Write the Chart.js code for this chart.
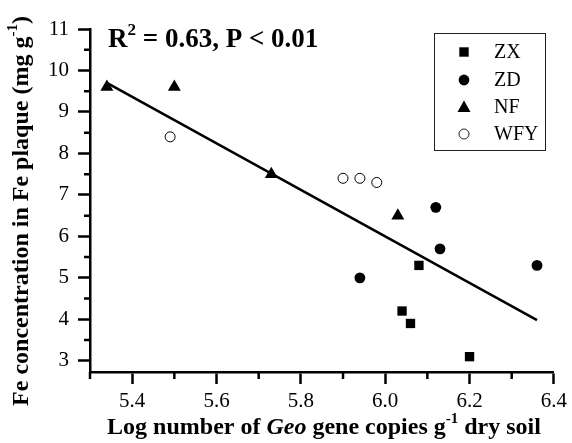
<!DOCTYPE html>
<html lang="en">
<head>
    <meta charset="UTF-8">
    <title>Fe plaque vs Geo gene copies</title>
    <style>
        html, body { margin: 0; padding: 0; background: #fff; }
        .chart-container { width: 572px; height: 443px; }
    </style>
</head>
<body>
    <div class="chart-container">
        <canvas id="feChart" width="572" height="443"></canvas>
    </div>

    <script src="https://cdn.jsdelivr.net/npm/chart.js@4.4.1/dist/chart.umd.min.js"></script>
    <script>
        // data
        const zxX = [6.08, 6.04, 6.06, 6.20];
        const zxY = [5.3, 4.2, 3.9, 3.1];
        const zdX = [5.94, 6.12, 6.13, 6.36];
        const zdY = [5.0, 6.7, 5.7, 5.3];
        const nfX = [5.34, 5.50, 5.73, 6.03];
        const nfY = [9.6, 9.6, 7.5, 6.5];
        const wfyX = [5.49, 5.90, 5.94, 5.98];
        const wfyY = [8.4, 7.4, 7.4, 7.3];
        const fitX = [5.34, 6.36];
        const fitY = [9.70, 3.98];

        const groupNames = ['ZX', 'ZD', 'NF', 'WFY'];
        const xTicks = [5.4, 5.6, 5.8, 6.0, 6.2, 6.4];
        const xMinorTicks = [5.3, 5.5, 5.7, 5.9, 6.1, 6.3];
        const yTicks = [3, 4, 5, 6, 7, 8, 9, 10, 11];
        const yMinorTicks = [3.5, 4.5, 5.5, 6.5, 7.5, 8.5, 9.5, 10.5];

        const serif = '"Liberation Serif", "DejaVu Serif", serif';

        function pts(xs, ys) {
            return xs.map((x, i) => ({ x: x, y: ys[i] }));
        }

        // minor ticks, legend box, R2 note and axis titles with superscripts
        const decorations = {
            id: 'decorations',
            afterDraw(chart) {
                const ctx = chart.ctx;
                const xs = chart.scales.x, ys = chart.scales.y;
                ctx.save();
                ctx.strokeStyle = '#000';
                ctx.lineWidth = 2.5;
                ctx.beginPath();
                xMinorTicks.forEach(v => {
                    const px = xs.getPixelForValue(v);
                    ctx.moveTo(px, xs.top);
                    ctx.lineTo(px, xs.top + 7);
                });
                yMinorTicks.forEach(v => {
                    const py = ys.getPixelForValue(v);
                    ctx.moveTo(ys.right, py);
                    ctx.lineTo(ys.right - 6, py);
                });
                ctx.stroke();

                // legend
                ctx.lineWidth = 1;
                ctx.strokeStyle = '#222';
                ctx.strokeRect(434.5, 33.5, 111, 117);
                ctx.font = 'normal 400 20px ' + serif;
                ctx.fillStyle = '#000';
                ctx.textBaseline = 'middle';
                ctx.textAlign = 'left';
                const rowY = [52, 80, 107, 134];
                groupNames.forEach((name, i) => {
                    const cx = 464, cy = rowY[i];
                    ctx.beginPath();
                    if (i === 0) {
                        ctx.fillRect(cx - 4.7, cy - 4.7, 9.4, 9.4);
                    } else if (i === 1) {
                        ctx.arc(cx, cy, 5.4, 0, Math.PI * 2);
                        ctx.fill();
                    } else if (i === 2) {
                        ctx.moveTo(cx, cy - 6.5);
                        ctx.lineTo(cx + 6.5, cy + 5);
                        ctx.lineTo(cx - 6.5, cy + 5);
                        ctx.closePath();
                        ctx.fill();
                    } else {
                        ctx.arc(cx, cy, 5, 0, Math.PI * 2);
                        ctx.stroke();
                    }
                    ctx.fillText(name, 494, cy + 1);
                });

                // R2 note
                ctx.textBaseline = 'alphabetic';
                drawRuns(ctx, [
                    { t: 'R', f: 'bold 27px' },
                    { t: '2', f: 'bold 17px', dy: -12 },
                    { t: ' = 0.63, P < 0.01', f: 'bold 27px' }
                ], 108, 47, 'left');

                // axis titles
                drawRuns(ctx, [
                    { t: 'Log number of ', f: 'bold 24px' },
                    { t: 'Geo', f: 'italic bold 24px' },
                    { t: ' gene copies g', f: 'bold 24px' },
                    { t: '-1', f: 'bold 15px', dy: -11 },
                    { t: ' dry soil', f: 'bold 24px' }
                ], 324, 434, 'center');

                ctx.translate(28, 211);
                ctx.rotate(-Math.PI / 2);
                drawRuns(ctx, [
                    { t: 'Fe concentration in Fe plaque (mg g', f: 'bold 24px' },
                    { t: '-1', f: 'bold 15px', dy: -11 },
                    { t: ')', f: 'bold 24px' }
                ], 0, 0, 'center');
                ctx.restore();
            }
        };

        function drawRuns(ctx, runs, x, y, align) {
            ctx.textAlign = 'left';
            let total = 0;
            runs.forEach(r => {
                ctx.font = r.f + ' ' + serif;
                r.w = ctx.measureText(r.t).width;
                total += r.w;
            });
            let cx = align === 'center' ? x - total / 2 : x;
            runs.forEach(r => {
                ctx.font = r.f + ' ' + serif;
                ctx.fillText(r.t, cx, y + (r.dy || 0));
                cx += r.w;
            });
        }

        const ctx = document.getElementById('feChart').getContext('2d');
        const feChart = new Chart(ctx, {
            type: 'scatter',
            data: {
                datasets: [{
                    label: 'fit',
                    type: 'line',
                    data: pts(fitX, fitY),
                    borderColor: '#000',
                    borderWidth: 2.5,
                    pointRadius: 0,
                    fill: false
                }, {
                    label: 'ZX',
                    data: pts(zxX, zxY),
                    pointStyle: 'rect',
                    pointRadius: 6.6,
                    backgroundColor: '#000',
                    borderWidth: 0
                }, {
                    label: 'ZD',
                    data: pts(zdX, zdY),
                    pointStyle: 'circle',
                    pointRadius: 5.4,
                    backgroundColor: '#000',
                    borderWidth: 0
                }, {
                    label: 'NF',
                    data: pts(nfX, nfY),
                    pointStyle: 'triangle',
                    pointRadius: 7.5,
                    backgroundColor: '#000',
                    borderWidth: 0
                }, {
                    label: 'WFY',
                    data: pts(wfyX, wfyY),
                    pointStyle: 'circle',
                    pointRadius: 5,
                    backgroundColor: '#fff',
                    borderColor: '#000',
                    borderWidth: 1
                }]
            },
            options: {
                responsive: false,
                animation: false,
                maintainAspectRatio: false,
                layout: { padding: { left: 0, right: 15, top: 29, bottom: 0 } },
                plugins: {
                    legend: { display: false },
                    tooltip: { enabled: false }
                },
                scales: {
                    x: {
                        type: 'linear',
                        min: 5.3,
                        max: 6.4,
                        afterBuildTicks: s => { s.ticks = xTicks.map(v => ({ value: v })); },
                        afterFit: s => { s.height = 71; },
                        ticks: {
                            callback: v => v.toFixed(1),
                            font: { family: serif, size: 21, weight: 'normal' },
                            color: '#000',
                            padding: 5,
                            maxRotation: 0,
                            autoSkip: false
                        },
                        grid: { drawOnChartArea: false, tickLength: 12, tickWidth: 2.5, tickColor: '#000' },
                        border: { color: '#000', width: 2.5 }
                    },
                    y: {
                        min: 2.73,
                        max: 11,
                        afterBuildTicks: s => { s.ticks = yTicks.map(v => ({ value: v })); },
                        afterFit: s => { s.width = 90; },
                        ticks: {
                            font: { family: serif, size: 21, weight: 'normal' },
                            color: '#000',
                            padding: 9,
                            autoSkip: false
                        },
                        grid: { drawOnChartArea: false, tickLength: 12, tickWidth: 2.5, tickColor: '#000' },
                        border: { color: '#000', width: 2.5 }
                    }
                }
            },
            plugins: [decorations]
        });
    </script>
</body>
</html>
